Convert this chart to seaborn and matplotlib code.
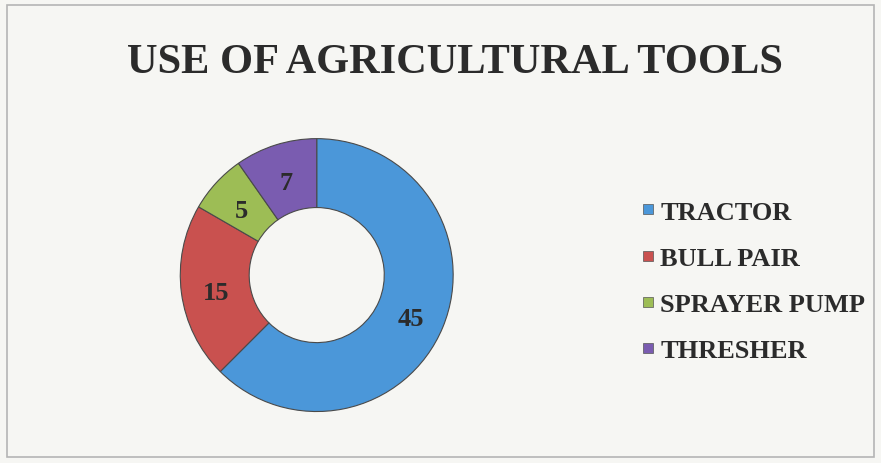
import numpy as np
import seaborn as sns
import matplotlib.pyplot as plt
from matplotlib.patches import Rectangle

# data
tools = ['TRACTOR', 'BULL PAIR', 'SPRAYER PUMP', 'THRESHER']
counts = [45, 15, 5, 7]
colors = ['#4b97d9', '#c9514f', '#9dbd55', '#7a5cb0']

sns.set_theme(style='white')
plt.rcParams['font.family'] = ['Liberation Serif', 'DejaVu Serif']

fig = plt.figure(figsize=(8.81, 4.64), dpi=100)
fig.patch.set_facecolor('#f6f6f3')

# light chart border like the spreadsheet frame
fig.add_artist(Rectangle((0.008, 0.012), 0.984, 0.976, transform=fig.transFigure,
                         fill=False, edgecolor='#b5b5b5', linewidth=1.2))

fig.text(0.516, 0.865, 'USE OF AGRICULTURAL TOOLS', ha='center', va='center',
         fontsize=30.5, fontweight='bold', color='#2b2b2b')

ax = fig.add_axes([0.203, 0.108, 0.313, 0.594])
wedges, texts = ax.pie(counts, colors=colors, startangle=90, counterclock=False,
                       radius=1.0,
                       wedgeprops=dict(width=0.505, edgecolor='#4a4a4a', linewidth=0.8))

# value labels in the middle of the ring
total = sum(counts)
angle = 90.0
for v in counts:
    mid = angle - v / total * 360 / 2
    angle -= v / total * 360
    r = 0.745
    ax.text(r * np.cos(np.radians(mid)), r * np.sin(np.radians(mid)) - 0.03, str(v),
            ha='center', va='center', fontsize=19, fontweight='bold', color='#2b2b2b')

ax.set_xlim(-1.01, 1.01)
ax.set_ylim(-1.01, 1.01)
ax.set_aspect('equal')
ax.axis('off')

handles = [plt.Line2D([0], [0], marker='s', linestyle='', markersize=7.5,
                      markerfacecolor=c, markeredgecolor='#555555', markeredgewidth=0.5)
           for c in colors]
leg = fig.legend(handles, tools, loc='upper left', bbox_to_anchor=(0.712, 0.595),
                 frameon=False, fontsize=19, handlelength=0.6, handletextpad=0.15,
                 labelspacing=0.86, borderpad=0)
for t in leg.get_texts():
    t.set_fontweight('bold')
    t.set_color('#2b2b2b')

fig.savefig('out.png', dpi=100, facecolor=fig.get_facecolor())
